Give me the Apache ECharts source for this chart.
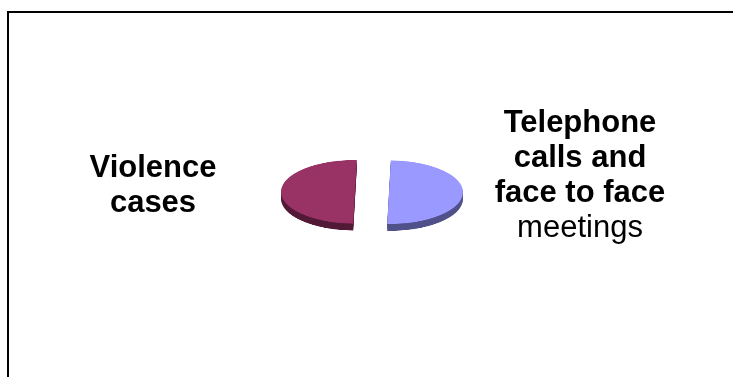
<!DOCTYPE html>
<html>
<head>
<meta charset="utf-8">
<script src="https://cdn.jsdelivr.net/npm/echarts@6/dist/echarts.min.js"></script>
<style>
  html, body { margin: 0; padding: 0; background: #ffffff; }
  #wrap { position: relative; width: 733px; height: 377px; overflow: hidden; background: #fff; }
  #pie { position: absolute; left: 0; top: 0; width: 733px; height: 377px; transform: scaleY(0.43); transform-origin: 0 192px; }
  #labels { position: absolute; left: 0; top: 0; width: 733px; height: 377px; }
</style>
</head>
<body>
<div id="wrap">
  <div id="pie"></div>
  <div id="labels"></div>
</div>
<script>
// ---- data ----
const categories = ['Telephone calls and face to face meetings', 'Violence cases'];
const values = [50, 50];
const topColors = ['#9999FF', '#993366'];
const sideColors = ['#50508A', '#521A36'];
// label lines: [text, bold?]
const labelLines = [
  [['Telephone', true], ['calls and', true], ['face to face', true], ['meetings', false]],
  [['Violence', true], ['cases', true]]
];

// ---- pie (pseudo 3D via vertical squash) ----
const cx = 372, cy = 192, R = 74, offset = 17, startAngle = 88.6;
const depthSteps = [16, 12, 8, 4];

function pieSeries(dy, colors, z) {
  return {
    type: 'pie',
    center: [cx, cy + dy],
    radius: [0, R],
    startAngle: startAngle,
    clockwise: true,
    selectedMode: 'multiple',
    selectedOffset: offset,
    animation: false,
    silent: true,
    z: z,
    label: { show: false },
    labelLine: { show: false },
    emphasis: { disabled: true },
    itemStyle: { borderWidth: 0 },
    data: categories.map((c, i) => ({
      name: c, value: values[i], selected: true,
      itemStyle: { color: colors[i] },
      select: { itemStyle: { color: colors[i] } }
    }))
  };
}

const pieChart = echarts.init(document.getElementById('pie'), null, { renderer: 'canvas' });
const series = depthSteps.map((d, k) => pieSeries(d, sideColors, k + 1));
series.push(pieSeries(0, topColors, 10));
pieChart.setOption({ backgroundColor: 'transparent', animation: false, series: series });

// ---- labels + border ----
function richText(lines) {
  return lines.map(l => '{' + (l[1] ? 'b' : 'n') + '|' + l[0] + '}').join('\n');
}
const rich = {
  b: { fontFamily: 'Liberation Sans, Arial, sans-serif', fontWeight: 'bold', fontSize: 31, lineHeight: 35, fill: '#000', align: 'center' },
  n: { fontFamily: 'Liberation Sans, Arial, sans-serif', fontWeight: 'normal', fontSize: 31, lineHeight: 35, fill: '#000', align: 'center' }
};
const labelPos = [[580, 176], [153, 186]];

const labelChart = echarts.init(document.getElementById('labels'), null, { renderer: 'canvas' });
labelChart.setOption({
  backgroundColor: 'transparent',
  animation: false,
  graphic: [
    {
      type: 'rect', silent: true,
      shape: { x: 8, y: 12, width: 800, height: 450 },
      style: { fill: 'none', stroke: '#000', lineWidth: 2 }
    }
  ].concat(labelLines.map((lines, i) => ({
    type: 'text', silent: true,
    x: labelPos[i][0], y: labelPos[i][1],
    style: {
      text: richText(lines), rich: rich,
      align: 'center', verticalAlign: 'middle',
      fontFamily: 'Liberation Sans, Arial, sans-serif', fontSize: 31, lineHeight: 35
    }
  })))
});
</script>
</body>
</html>
